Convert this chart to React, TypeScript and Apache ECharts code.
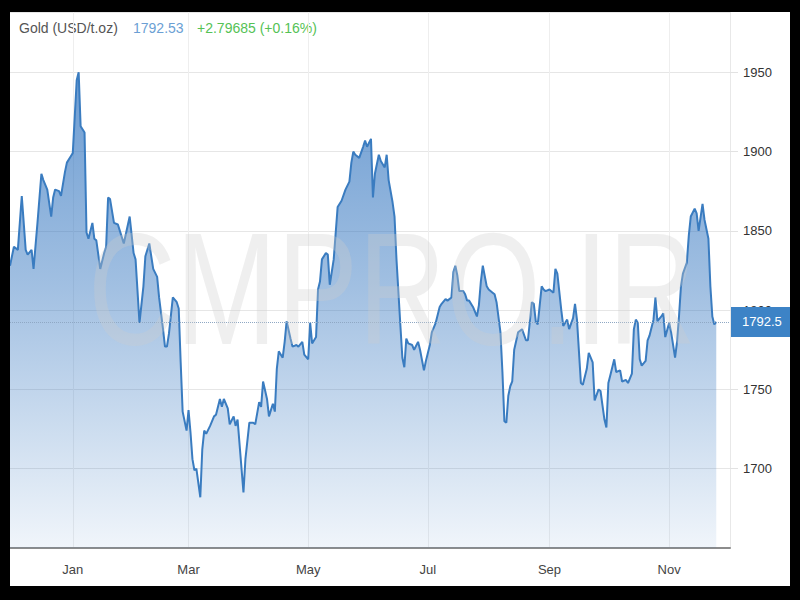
import React, { useEffect, useRef } from "react";
import * as echarts from "echarts";

// ---- data ----
const START_DATE = "2020-11-30";
const END_DATE = "2021-12-02";

const dates: string[] = [
  "2020-11-30", "2020-12-02", "2020-12-04", "2020-12-06", "2020-12-08", "2020-12-09", "2020-12-11", "2020-12-12", "2020-12-14", "2020-12-16",
  "2020-12-17", "2020-12-19", "2020-12-21", "2020-12-22", "2020-12-23", "2020-12-25", "2020-12-26", "2020-12-28", "2020-12-29", "2020-12-31",
  "2021-01-01", "2021-01-03", "2021-01-04", "2021-01-05", "2021-01-07", "2021-01-08", "2021-01-09", "2021-01-11", "2021-01-12", "2021-01-13",
  "2021-01-15", "2021-01-17", "2021-01-18", "2021-01-19", "2021-01-20", "2021-01-22", "2021-01-24", "2021-01-25", "2021-01-27", "2021-01-30",
  "2021-02-01", "2021-02-02", "2021-02-04", "2021-02-06", "2021-02-07", "2021-02-09", "2021-02-11", "2021-02-13", "2021-02-14", "2021-02-16",
  "2021-02-17", "2021-02-18", "2021-02-19", "2021-02-21", "2021-02-23", "2021-02-24", "2021-02-25", "2021-02-26", "2021-02-28",
  "2021-03-01", "2021-03-02", "2021-03-03", "2021-03-04", "2021-03-05", "2021-03-07", "2021-03-08", "2021-03-09", "2021-03-10", "2021-03-12",
  "2021-03-14", "2021-03-15", "2021-03-17", "2021-03-18", "2021-03-19", "2021-03-21", "2021-03-22", "2021-03-24", "2021-03-25", "2021-03-26",
  "2021-03-29", "2021-03-30",
  "2021-04-01", "2021-04-03", "2021-04-04", "2021-04-06", "2021-04-07", "2021-04-08", "2021-04-10", "2021-04-11", "2021-04-13", "2021-04-14",
  "2021-04-15", "2021-04-16", "2021-04-18", "2021-04-19", "2021-04-20", "2021-04-22", "2021-04-23", "2021-04-25", "2021-04-26", "2021-04-28",
  "2021-04-29",
  "2021-05-01", "2021-05-02", "2021-05-03", "2021-05-05", "2021-05-06", "2021-05-07", "2021-05-08", "2021-05-10", "2021-05-11", "2021-05-12",
  "2021-05-14", "2021-05-16", "2021-05-18", "2021-05-20", "2021-05-22", "2021-05-23", "2021-05-24", "2021-05-25", "2021-05-27", "2021-05-29",
  "2021-05-30", "2021-05-31",
  "2021-06-02", "2021-06-03", "2021-06-04", "2021-06-06", "2021-06-07", "2021-06-09", "2021-06-10", "2021-06-11", "2021-06-13", "2021-06-14",
  "2021-06-15", "2021-06-17", "2021-06-18", "2021-06-19", "2021-06-20", "2021-06-21", "2021-06-23", "2021-06-24", "2021-06-26", "2021-06-27",
  "2021-06-29", "2021-06-30",
  "2021-07-02", "2021-07-03", "2021-07-05", "2021-07-07", "2021-07-08", "2021-07-10", "2021-07-11", "2021-07-13", "2021-07-14", "2021-07-15",
  "2021-07-16", "2021-07-17", "2021-07-19", "2021-07-20", "2021-07-21", "2021-07-22", "2021-07-24", "2021-07-26", "2021-07-27", "2021-07-28",
  "2021-07-29", "2021-07-31",
  "2021-08-01", "2021-08-03", "2021-08-04", "2021-08-05", "2021-08-07", "2021-08-08", "2021-08-09", "2021-08-10", "2021-08-11", "2021-08-12",
  "2021-08-13", "2021-08-14", "2021-08-16", "2021-08-17", "2021-08-18", "2021-08-20", "2021-08-21", "2021-08-23", "2021-08-24", "2021-08-25",
  "2021-08-26", "2021-08-28", "2021-08-29", "2021-08-30",
  "2021-09-01", "2021-09-03", "2021-09-04", "2021-09-05", "2021-09-07", "2021-09-08", "2021-09-10", "2021-09-11", "2021-09-13", "2021-09-14",
  "2021-09-15", "2021-09-17", "2021-09-18", "2021-09-20", "2021-09-21", "2021-09-23", "2021-09-24", "2021-09-26", "2021-09-27", "2021-09-28",
  "2021-09-29", "2021-09-30",
  "2021-10-01", "2021-10-02", "2021-10-04", "2021-10-05", "2021-10-07", "2021-10-08", "2021-10-10", "2021-10-11", "2021-10-13", "2021-10-14",
  "2021-10-15", "2021-10-16", "2021-10-17", "2021-10-18", "2021-10-20", "2021-10-21", "2021-10-22", "2021-10-24", "2021-10-25", "2021-10-26",
  "2021-10-28", "2021-10-29", "2021-10-30",
  "2021-11-01", "2021-11-02", "2021-11-04", "2021-11-05", "2021-11-06", "2021-11-07", "2021-11-08", "2021-11-10", "2021-11-11", "2021-11-12",
  "2021-11-14", "2021-11-15", "2021-11-16", "2021-11-18", "2021-11-19", "2021-11-21", "2021-11-22", "2021-11-23", "2021-11-24", "2021-11-25",
];

const prices: number[] = [
  1828, 1840, 1838, 1872, 1838, 1835, 1838, 1826, 1855, 1886,
  1882, 1876, 1859, 1871, 1876, 1875, 1872, 1887, 1893, 1897,
  1899, 1945, 1950, 1916, 1912, 1849, 1845, 1855, 1845, 1844,
  1826, 1836, 1840, 1871, 1870, 1855, 1854, 1850, 1842, 1859,
  1836, 1832, 1792, 1815, 1834, 1842, 1826, 1821, 1808, 1788,
  1777, 1777, 1785, 1808, 1805, 1801, 1767, 1736, 1724,
  1737, 1723, 1706, 1699, 1700, 1682, 1712, 1724, 1722, 1727,
  1733, 1734, 1744, 1739, 1744, 1738, 1728, 1733, 1727, 1731,
  1685, 1706,
  1729, 1729, 1728, 1742, 1739, 1755, 1744, 1733, 1741, 1736,
  1763, 1774, 1770, 1780, 1793, 1782, 1777, 1778, 1777, 1780,
  1772,
  1769, 1792, 1779, 1783, 1813, 1818, 1832, 1836, 1835, 1816,
  1832, 1865, 1869, 1876, 1881, 1893, 1900, 1898, 1896, 1903,
  1907, 1903,
  1908, 1871, 1886, 1898, 1894, 1890, 1898, 1882, 1868, 1859,
  1832, 1790, 1770, 1764, 1782, 1779, 1778, 1775, 1780, 1775,
  1762, 1768,
  1778, 1786, 1792, 1802, 1804, 1807, 1806, 1808, 1824, 1828,
  1822, 1812, 1812, 1810, 1806, 1806, 1802, 1796, 1803, 1818,
  1828, 1815,
  1813, 1811, 1810, 1805, 1786, 1761, 1730, 1729, 1746, 1752,
  1755, 1775, 1786, 1787, 1788, 1781, 1781, 1805, 1804, 1793,
  1791, 1815, 1813, 1812,
  1813, 1811, 1826, 1823, 1800, 1790, 1794, 1788, 1795, 1804,
  1794, 1754, 1753, 1763, 1773, 1767, 1743, 1750, 1749, 1740,
  1731, 1726,
  1754, 1759, 1769, 1761, 1762, 1755, 1756, 1754, 1760, 1788,
  1794, 1792, 1769, 1765, 1768, 1781, 1784, 1794, 1808, 1793,
  1796, 1798, 1783,
  1792, 1786, 1770, 1780, 1796, 1815, 1823, 1830, 1847, 1859,
  1864, 1861, 1850, 1867, 1857, 1845, 1815, 1796, 1791, 1792.53,
];

const LAST_PRICE = 1792.53;
const PRICE_TAG = "1792.5";
const CHANGE_TEXT = "+2.79685 (+0.16%)";
const TITLE_TEXT = "Gold (USD/t.oz)";
const WATERMARK = "CMPRO.IR";

const yTicks = { min: 1650, max: 1988, interval: 50 };
const labelMonths = ["01", "03", "05", "07", "09", "11"];
const monthNames = ["Jan", "Feb", "Mar", "Apr", "May", "Jun", "Jul", "Aug", "Sep", "Oct", "Nov", "Dec"];

// calendar of every day in the displayed range (category axis)
function buildCalendar(start: string, end: string): string[] {
  const out: string[] = [];
  const d = new Date(start + "T00:00:00Z");
  const e = new Date(end + "T00:00:00Z");
  while (d.getTime() <= e.getTime()) {
    out.push(d.toISOString().slice(0, 10));
    d.setUTCDate(d.getUTCDate() + 1);
  }
  return out;
}

const categories = buildCalendar(START_DATE, END_DATE);

export default function App() {
  const ref = useRef<HTMLDivElement | null>(null);

  useEffect(() => {
    if (!ref.current) return;
    const chart = echarts.init(ref.current, undefined, { renderer: "svg" });

    const byDate = new Map<string, number>();
    dates.forEach((d, i) => byDate.set(d, prices[i]));
    const seriesData = categories.map((c) => (byDate.has(c) ? byDate.get(c)! : null));

    const isLabelDay = (_idx: number, value: string) =>
      value.slice(8, 10) === "01" && labelMonths.indexOf(value.slice(5, 7)) >= 0;

    const font = "'Liberation Sans', Arial, Helvetica, sans-serif";

    chart.setOption({
      animation: false,
      backgroundColor: "#ffffff",
      textStyle: { fontFamily: font },
      grid: { left: 0, right: 60, top: 0, bottom: 38, containLabel: false },
      xAxis: {
        type: "category",
        data: categories,
        boundaryGap: false,
        axisLine: { show: true, lineStyle: { color: "#8c8c8c", width: 2 } },
        axisTick: { show: false },
        axisLabel: {
          interval: isLabelDay,
          formatter: (v: string) => monthNames[parseInt(v.slice(5, 7), 10) - 1],
          color: "#444444",
          fontSize: 13,
          margin: 15,
          fontFamily: font,
        },
        splitLine: { show: true, interval: isLabelDay, lineStyle: { color: "#eeeeee", width: 1 } },
      },
      yAxis: {
        type: "value",
        position: "right",
        min: yTicks.min,
        max: yTicks.max,
        interval: yTicks.interval,
        axisLine: { show: true, lineStyle: { color: "#e8e8e8" } },
        axisTick: { show: true, length: 8, lineStyle: { color: "#e2e2e2" } },
        axisLabel: {
          color: "#333333",
          fontSize: 13,
          margin: 13,
          showMinLabel: false,
          showMaxLabel: false,
          fontFamily: font,
          formatter: (v: number) => String(v),
        },
        splitLine: { show: true, lineStyle: { color: "#e6e6e6", width: 1 } },
      },
      series: [
        {
          type: "line",
          data: seriesData,
          connectNulls: true,
          showSymbol: false,
          symbol: "none",
          smooth: false,
          lineStyle: { color: "#3a7cc0", width: 2 },
          areaStyle: {
            color: new echarts.graphic.LinearGradient(0, 0, 0, 1, [
              { offset: 0, color: "rgba(46,114,190,1)" },
              { offset: 0.45, color: "rgba(46,114,190,0.64)" },
              { offset: 1, color: "rgba(46,114,190,0.1)" },
            ]),
          },
          markLine: {
            silent: true,
            symbol: "none",
            lineStyle: { type: "dotted", color: "#8fa8c4", width: 1 },
            label: {
              position: "end",
              formatter: PRICE_TAG,
              color: "#ffffff",
              backgroundColor: "#3d83c6",
              padding: [9, 12, 8, 11],
              fontSize: 13,
              distance: 1,
              fontFamily: font,
            },
            data: [{ yAxis: LAST_PRICE }],
          },
        },
      ],
      graphic: [
        {
          type: "text",
          x: 382,
          y: 276,
          z: 10,
          silent: true,
          scaleX: 0.76,
          style: {
            text: WATERMARK,
            fontSize: 160,
            fontFamily: font,
            fill: "rgba(205,205,205,0.32)",
            align: "center",
            verticalAlign: "middle",
          },
        },
        {
          type: "text",
          x: 9,
          y: 16,
          style: { text: TITLE_TEXT, fontSize: 14, fontFamily: font, fill: "#555555", verticalAlign: "middle" },
        },
        {
          type: "text",
          x: 123,
          y: 16,
          style: { text: LAST_PRICE.toFixed(2), fontSize: 14, fontFamily: font, fill: "#6b9fd4", verticalAlign: "middle" },
        },
        {
          type: "text",
          x: 187,
          y: 16,
          style: { text: CHANGE_TEXT, fontSize: 14, fontFamily: font, fill: "#55c255", verticalAlign: "middle" },
        },
      ],
    });

    return () => chart.dispose();
  }, []);

  return (
    <div style={{ position: "fixed", left: 0, top: 0, width: 800, height: 600, background: "#000000" }}>
      <div
        ref={ref}
        style={{ position: "absolute", left: 10, top: 12, width: 780, height: 574, background: "#ffffff" }}
      />
    </div>
  );
}
